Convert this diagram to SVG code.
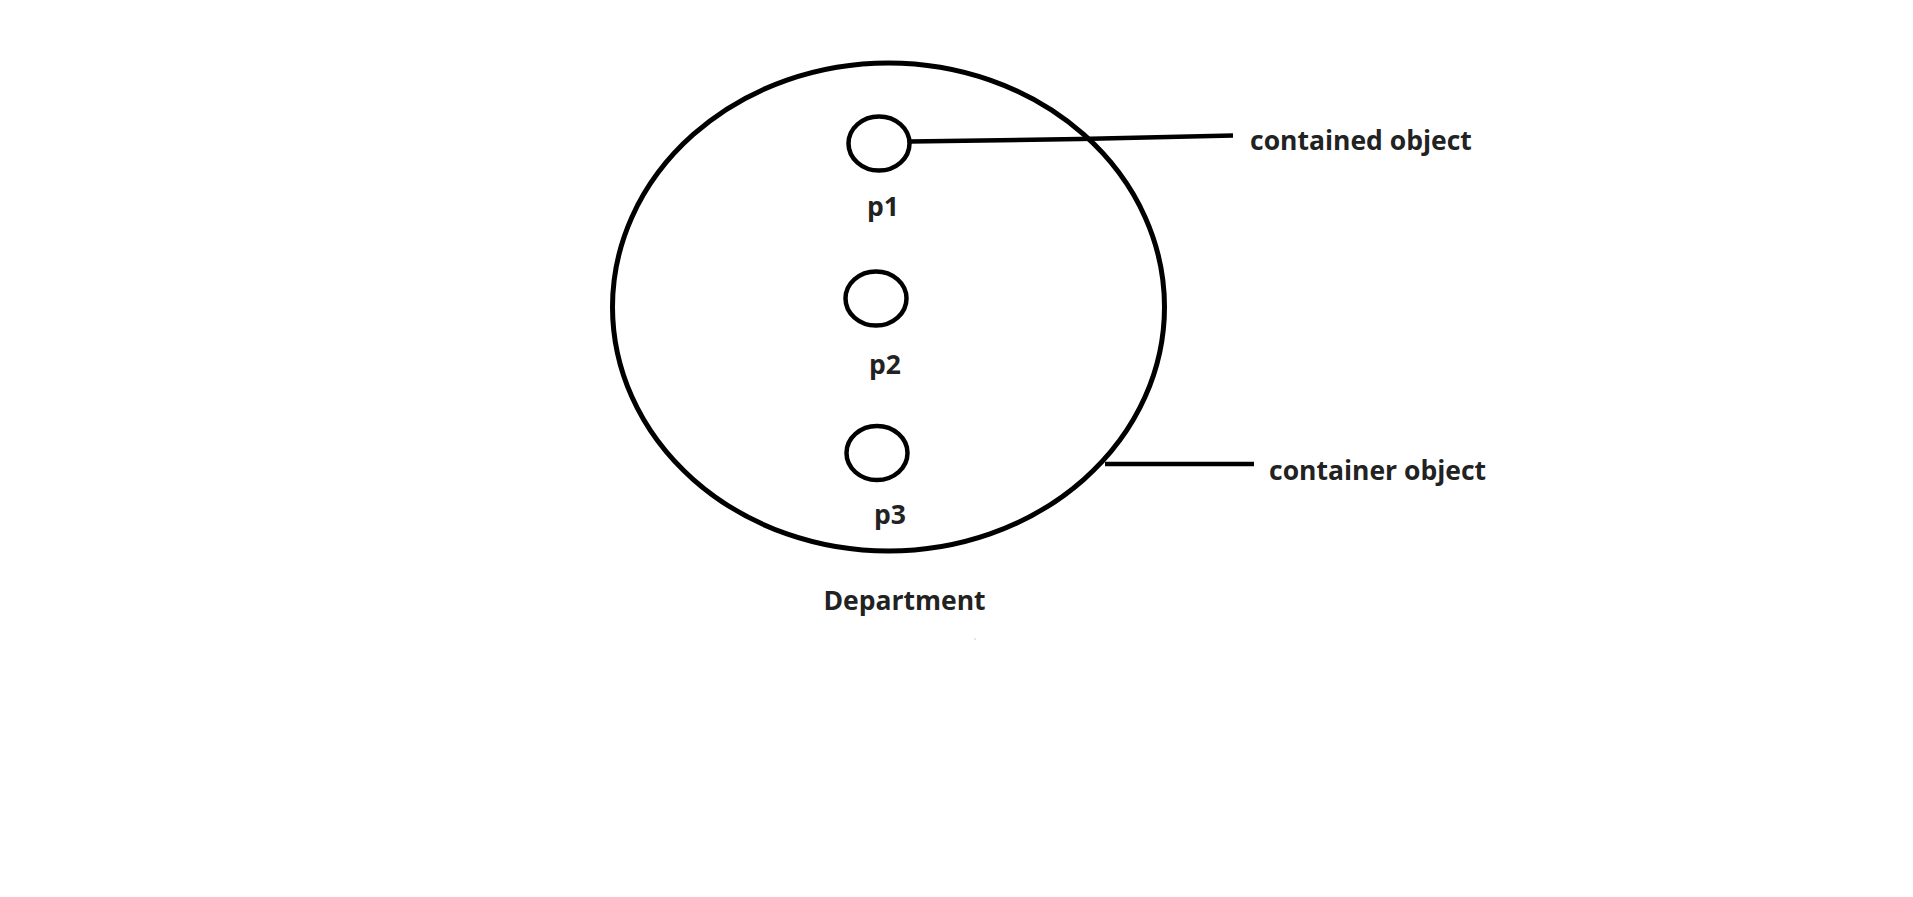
<svg xmlns="http://www.w3.org/2000/svg" width="1913" height="897" viewBox="0 0 1913 897">
<style>
.shape{fill:none;stroke:#000;stroke-width:5}
.small{fill:none;stroke:#000;stroke-width:4.5}
.conn{stroke:#000;stroke-width:4.5;fill:none;stroke-linecap:butt}
.lbl{font-family:"Open Sans","Liberation Sans",sans-serif;font-weight:700;font-size:26.5px;fill:#222}
</style>
<rect width="1913" height="897" fill="#fff"/>
<g id="department">
<ellipse class="shape" cx="888.5" cy="307" rx="276" ry="244"/>
<text class="lbl" x="904.5" y="610" text-anchor="middle">Department</text>
</g>
<g id="p1">
<ellipse class="small" cx="879" cy="143.5" rx="30.5" ry="27"/>
<text class="lbl" x="883" y="216" text-anchor="middle">p1</text>
</g>
<g id="p2">
<ellipse class="small" cx="876" cy="298.5" rx="30.5" ry="27"/>
<text class="lbl" x="885" y="374" text-anchor="middle">p2</text>
</g>
<g id="p3">
<ellipse class="small" cx="877" cy="453" rx="30.5" ry="27"/>
<text class="lbl" x="890" y="524" text-anchor="middle">p3</text>
</g>
<g id="connectors">
<polyline class="conn" points="910,141.5 1080,139 1233,135.5"/>
<line class="conn" x1="1105" y1="464" x2="1254" y2="464"/>
</g>
<g id="label-contained">
<text class="lbl" x="1250" y="150">contained object</text>
</g>
<g id="label-container">
<text class="lbl" x="1269" y="480">container object</text>
</g>
<circle cx="975" cy="639" r="0.7" fill="#bbb"/>
</svg>
